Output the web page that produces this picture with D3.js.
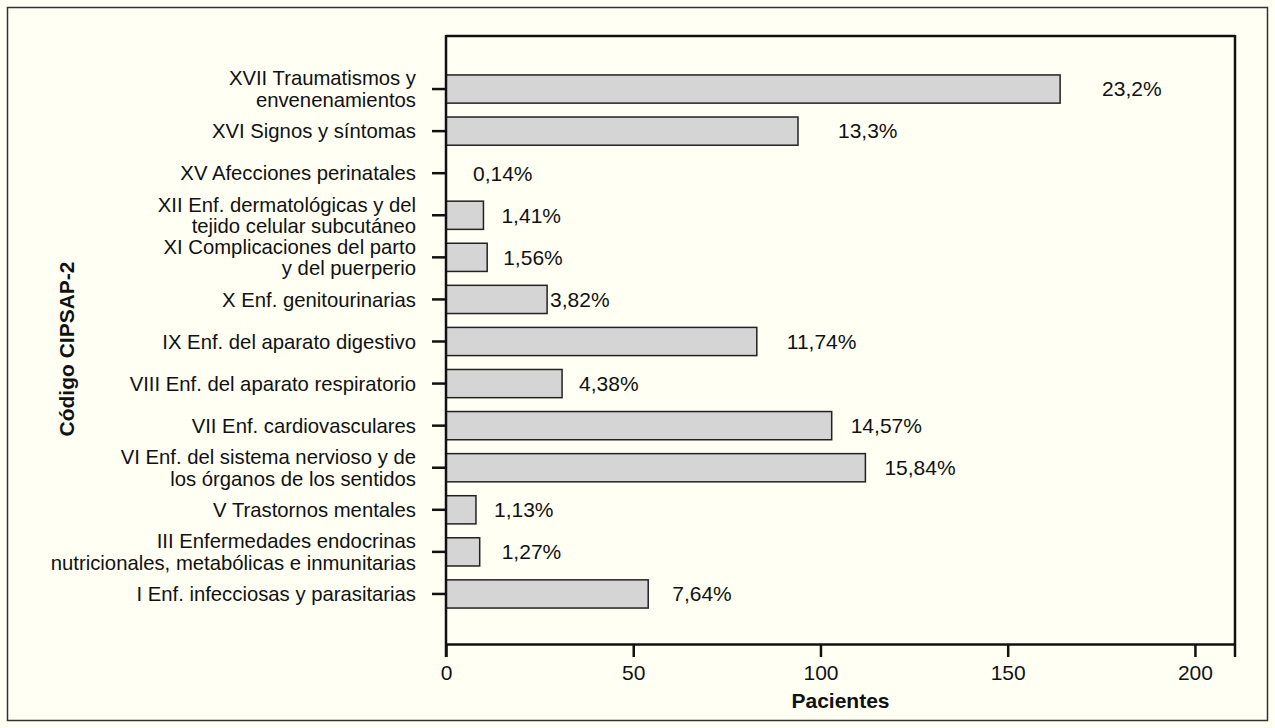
<!DOCTYPE html>
<html>
<head>
<meta charset="utf-8">
<script src="https://cdn.jsdelivr.net/npm/d3@7"></script>
<style>
  body { margin: 0; background: #fffff4; }
  svg { display: block; font-family: "Liberation Sans", Arial, Helvetica, sans-serif; }
</style>
</head>
<body>
<div id="chart"></div>
<script>
// categories, top to bottom (multi-line labels split on "|")
const categories = [
  "XVII Traumatismos y|envenenamientos",
  "XVI Signos y síntomas",
  "XV Afecciones perinatales",
  "XII Enf. dermatológicas y del|tejido celular subcutáneo",
  "XI Complicaciones del parto|y del puerperio",
  "X Enf. genitourinarias",
  "IX Enf. del aparato digestivo",
  "VIII Enf. del aparato respiratorio",
  "VII Enf. cardiovasculares",
  "VI Enf. del sistema nervioso y de|los órganos de los sentidos",
  "V Trastornos mentales",
  "III Enfermedades endocrinas|nutricionales, metabólicas e inmunitarias",
  "I Enf. infecciosas y parasitarias"
];
// number of patients (bar length)
const patients = [164, 94, 0, 10, 11, 27, 83, 31, 103, 112, 8, 9, 54];
// percentage labels as printed
const pctLabels = ["23,2%", "13,3%", "0,14%", "1,41%", "1,56%", "3,82%", "11,74%", "4,38%",
  "14,57%", "15,84%", "1,13%", "1,27%", "7,64%"];
const xTicks = [0, 50, 100, 150, 200];
const xMax = 210.7;

// layout only: gap in px between bar end and its percentage label
const labelGap = [42, 40, 27, 18, 16, 3, 30, 17, 19, 19, 18, 22, 24];

const W = 1275, H = 728;
const plot = { left: 446, right: 1235, top: 36, bottom: 644 };
const fs = 21;
const catFs = 20.3;

const svg = d3.select("#chart").append("svg")
  .attr("width", W)
  .attr("height", H);

svg.append("rect")
  .attr("width", W).attr("height", H)
  .attr("fill", "#fffff4");

// outer frame
svg.append("rect")
  .attr("x", 7.5).attr("y", 7.5)
  .attr("width", W - 15).attr("height", H - 15)
  .attr("fill", "none")
  .attr("stroke", "#333")
  .attr("stroke-width", 1.5);

const x = d3.scaleLinear().domain([0, xMax]).range([plot.left, plot.right]);
const y = d3.scaleBand()
  .domain(categories)
  .range([plot.top, plot.bottom])
  .paddingInner(0.33)
  .paddingOuter(0.89)
  .align(0.52);

// bars
svg.selectAll("rect.bar")
  .data(categories.map((c, i) => ({ c, v: patients[i], i })).filter(d => d.v > 0))
  .enter()
  .append("rect")
  .attr("class", "bar")
  .attr("x", x(0))
  .attr("y", d => y(d.c))
  .attr("width", d => x(d.v) - x(0))
  .attr("height", y.bandwidth())
  .attr("fill", "#d5d5d5")
  .attr("stroke", "#222")
  .attr("stroke-width", 1.5);

// percentage labels
svg.selectAll("text.pct")
  .data(categories)
  .enter()
  .append("text")
  .attr("class", "pct")
  .attr("x", (d, i) => x(patients[i]) + labelGap[i])
  .attr("y", d => y(d) + y.bandwidth() / 2)
  .attr("dy", "0.35em")
  .attr("font-size", fs)
  .attr("fill", "#111")
  .text((d, i) => pctLabels[i]);

// frame top and right
svg.append("line")
  .attr("x1", plot.left).attr("x2", plot.right)
  .attr("y1", plot.top).attr("y2", plot.top)
  .attr("stroke", "#111").attr("stroke-width", 2.5);
svg.append("line")
  .attr("x1", plot.right).attr("x2", plot.right)
  .attr("y1", plot.top - 1).attr("y2", plot.bottom + 13)
  .attr("stroke", "#111").attr("stroke-width", 2.5);

// x axis
const xAxis = svg.append("g")
  .attr("transform", `translate(0,${plot.bottom})`)
  .call(d3.axisBottom(x).tickValues(xTicks).tickSize(13).tickPadding(8).tickSizeOuter(0));
xAxis.select(".domain").attr("stroke", "#111").attr("stroke-width", 2.5);
xAxis.selectAll(".tick line").attr("stroke", "#111").attr("stroke-width", 2.5);
xAxis.selectAll(".tick text")
  .attr("font-size", fs)
  .attr("font-family", "Liberation Sans, Arial, sans-serif")
  .attr("fill", "#111");

// y axis
const yAxis = svg.append("g")
  .attr("transform", `translate(${plot.left},0)`)
  .call(d3.axisLeft(y).tickSize(14).tickSizeOuter(0).tickFormat(""));
yAxis.select(".domain").remove();
yAxis.selectAll(".tick line").attr("stroke", "#111").attr("stroke-width", 2.5);
svg.append("line")
  .attr("x1", plot.left).attr("x2", plot.left)
  .attr("y1", plot.top - 1).attr("y2", plot.bottom + 13)
  .attr("stroke", "#111").attr("stroke-width", 2.5);

// category labels
const lineH = 21.5;
svg.selectAll("text.cat")
  .data(categories)
  .enter()
  .append("text")
  .attr("class", "cat")
  .attr("text-anchor", "end")
  .attr("font-size", catFs)
  .attr("fill", "#111")
  .each(function (d) {
    const lines = d.split("|");
    const cy = y(d) + y.bandwidth() / 2;
    const t = d3.select(this);
    lines.forEach((ln, k) => {
      t.append("tspan")
        .attr("x", 416)
        .attr("y", cy + (k - (lines.length - 1) / 2) * lineH)
        .attr("dy", "0.35em")
        .text(ln);
    });
  });

// axis titles
svg.append("text")
  .attr("x", (plot.left + plot.right) / 2)
  .attr("y", 708)
  .attr("text-anchor", "middle")
  .attr("font-size", fs)
  .attr("font-weight", "bold")
  .attr("fill", "#111")
  .text("Pacientes");

svg.append("text")
  .attr("transform", "rotate(-90)")
  .attr("x", -349)
  .attr("y", 74)
  .attr("text-anchor", "middle")
  .attr("font-size", fs)
  .attr("font-weight", "bold")
  .attr("fill", "#111")
  .text("Código CIPSAP-2");
</script>
</body>
</html>
